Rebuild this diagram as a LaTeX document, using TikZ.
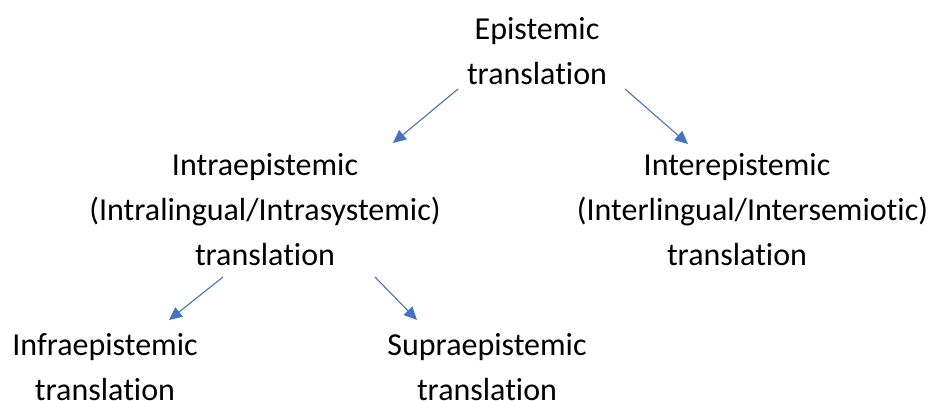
\documentclass[tikz,border=0pt]{standalone}
\usepackage{fontspec}
\setmainfont{Carlito}[Ligatures=NoCommon]
\usetikzlibrary{arrows.meta}
\definecolor{arrowblue}{HTML}{4472C4}
\begin{document}
\begin{tikzpicture}[x=1pt,y=-1pt,
  lbl/.style={align=center,font=\fontsize{32}{45}\selectfont,inner sep=0pt},
  conn/.style={draw=arrowblue,line width=1.1pt,-{Triangle[length=13pt,width=12pt]},shorten >=0pt}]
\useasboundingbox (0,0) rectangle (931,401);
\node[lbl] (epi) at (537,51) {Epistemic\\translation};
\node[lbl] (intra) at (265,210) {Intraepistemic\\(Intralingual/Intrasystemic)\\translation};
\node[lbl] (inter) at (737,210) {Interepistemic\\\hspace*{31pt}(Interlingual/Intersemiotic)\\translation};
\node[lbl] (infra) at (105,367) {Infraepistemic\\translation};
\node[lbl] (supra) at (487,367) {Supraepistemic\\translation};
\coordinate (a1s) at (458,89); \coordinate (a1e) at (393,143);
\coordinate (a2s) at (625,89); \coordinate (a2e) at (688,144);
\coordinate (a3s) at (223,277); \coordinate (a3e) at (169,320);
\coordinate (a4s) at (375,277); \coordinate (a4e) at (417,320);
\draw[conn] (a1s) -- (a1e);
\draw[conn] (a2s) -- (a2e);
\draw[conn] (a3s) -- (a3e);
\draw[conn] (a4s) -- (a4e);
\end{tikzpicture}
\end{document}
